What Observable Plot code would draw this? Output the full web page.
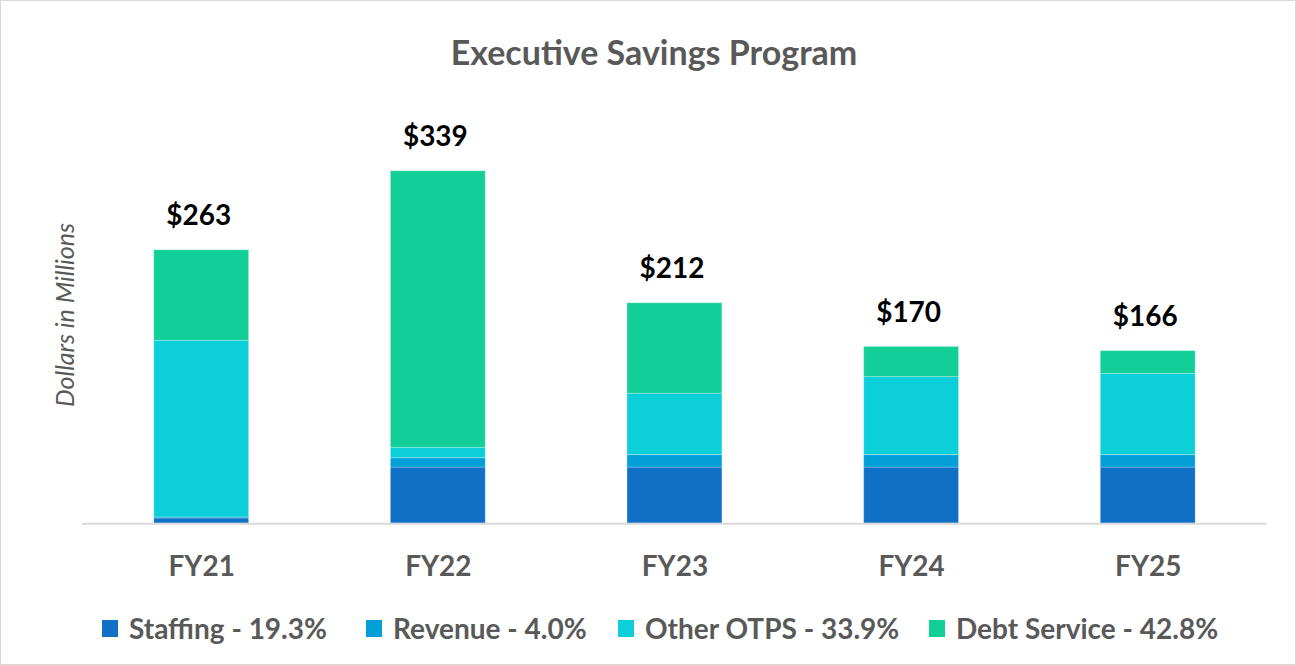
<!DOCTYPE html>
<html>
<head>
<meta charset="utf-8">
<script src="https://cdn.jsdelivr.net/npm/d3@7"></script>
<script src="https://cdn.jsdelivr.net/npm/@observablehq/plot@0.6"></script>
<style>
  html, body { margin: 0; padding: 0; background: #fff; }
  #chart { position: relative; width: 1294px; height: 663px; border: 1px solid #d9d9d9; font-family: Lato, "Open Sans", sans-serif; overflow: hidden; }
  #title { position: absolute; top: 50px; left: 653px; transform: translate(-50%, -50%); white-space: nowrap; font-size: 34px; font-weight: bold; color: #595959; }
  #ylabel { position: absolute; left: 63px; top: 314px; transform: translate(-50%, -50%) rotate(-90deg); font-size: 25px; font-style: italic; color: #595959; white-space: nowrap; }
  #plot { position: absolute; left: 0; top: 0; }
  .item { position: absolute; top: 627px; transform: translateY(-50%); display: flex; align-items: center; white-space: nowrap; font-size: 28px; font-weight: bold; color: #595959; }
  .sw { width: 16px; height: 17px; margin-right: 11px; }
</style>
</head>
<body>
<div id="chart">
  <div id="title">Executive Savings Program</div>
  <div id="ylabel">Dollars in Millions</div>
  <div id="plot"></div>
  <div id="legend"></div>
</div>
<script>
const years = ["FY21", "FY22", "FY23", "FY24", "FY25"];
const seriesNames = ["Staffing", "Revenue", "Other OTPS", "Debt Service"];
const seriesLegend = ["Staffing - 19.3%", "Revenue - 4.0%", "Other OTPS - 33.9%", "Debt Service - 42.8%"];
const seriesColors = ["#0F70C6", "#029FD9", "#0CCFD9", "#12CF97"];
const staffing = [5, 54, 54, 54, 54];
const revenue = [1, 9, 12, 12, 12];
const otherOTPS = [170, 10, 59, 75, 78];
const debtService = [87, 266, 87, 29, 22];
const totals = [263, 339, 212, 170, 166];
const totalLabels = ["$263", "$339", "$212", "$170", "$166"];

const seriesValues = [staffing, revenue, otherOTPS, debtService];
const rows = [];
seriesNames.forEach((s, si) => {
  years.forEach((y, yi) => rows.push({year: y, series: s, value: seriesValues[si][yi]}));
});
const totalRows = years.map((y, i) => ({year: y, total: totals[i], label: totalLabels[i]}));

const plot = Plot.plot({
  width: 1296,
  height: 665,
  marginLeft: 81,
  marginRight: 28.5,
  marginTop: 106.5,
  marginBottom: 142,
  style: {fontFamily: "Lato, 'Open Sans', sans-serif", background: "transparent"},
  x: {domain: years, paddingInner: 0.6, paddingOuter: 0.3, axis: null},
  y: {domain: [0, 400], axis: null},
  color: {domain: seriesNames, range: seriesColors},
  marks: [
    Plot.barY(rows, Plot.stackY({x: "year", y: "value", fill: "series", order: seriesNames, stroke: "#ffffff", strokeOpacity: 0.25, strokeWidth: 1})),
    Plot.ruleY([0], {stroke: "#d9d9d9", strokeWidth: 2}),
    Plot.text(totalRows, {x: "year", y: "total", text: "label", dx: -3, dy: -34, fontSize: 28, fontWeight: "bold", fill: "#000"}),
    Plot.text(years, {x: d => d, y: 0, text: d => d, dy: 43, fontSize: 28, fontWeight: "bold", fill: "#595959"})
  ]
});
document.getElementById("plot").appendChild(plot);

const legend = document.getElementById("legend");
const legendLeft = [101, 365, 617, 928];
seriesLegend.forEach((t, i) => {
  const it = document.createElement("div");
  it.className = "item";
  it.style.left = legendLeft[i] + "px";
  const sw = document.createElement("div");
  sw.className = "sw";
  sw.style.background = seriesColors[i];
  it.appendChild(sw);
  const tx = document.createElement("span");
  tx.textContent = t;
  it.appendChild(tx);
  legend.appendChild(it);
});
</script>
</body>
</html>
